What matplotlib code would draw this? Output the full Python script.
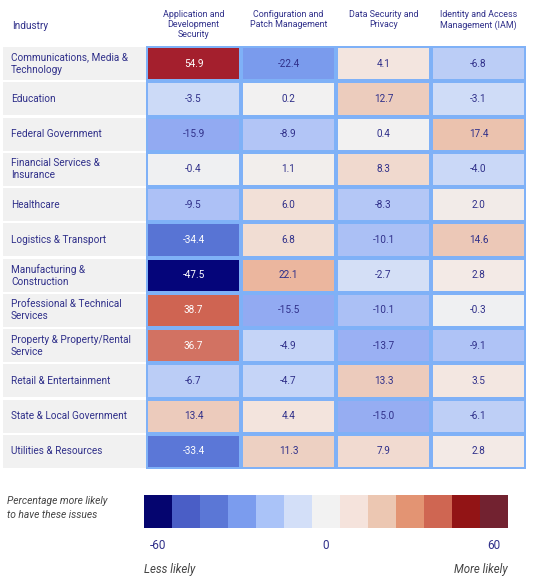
import matplotlib
matplotlib.use("Agg")
import matplotlib.pyplot as plt
import numpy as np
from matplotlib.colors import LinearSegmentedColormap, ListedColormap, Normalize

plt.rcParams["font.family"] = ["Roboto", "DejaVu Sans"]

# --- data ---
industries = [
    "Communications, Media &\nTechnology",
    "Education",
    "Federal Government",
    "Financial Services &\nInsurance",
    "Healthcare",
    "Logistics & Transport",
    "Manufacturing &\nConstruction",
    "Professional & Technical\nServices",
    "Property & Property/Rental\nService",
    "Retail & Entertainment",
    "State & Local Government",
    "Utilities & Resources",
]
columns = [
    "Application and\nDevelopment\nSecurity",
    "Configuration and\nPatch Management",
    "Data Security and\nPrivacy",
    "Identity and Access\nManagement (IAM)",
]
app_dev = [54.9, -3.5, -15.9, -0.4, -9.5, -34.4, -47.5, 38.7, 36.7, -6.7, 13.4, -33.4]
config_patch = [-22.4, 0.2, -8.9, 1.1, 6.0, 6.8, 22.1, -15.5, -4.9, -4.7, 4.4, 11.3]
data_sec = [4.1, 12.7, 0.4, 8.3, -8.3, -10.1, -2.7, -10.1, -13.7, 13.3, -15.0, 7.9]
iam = [-6.8, -3.1, 17.4, -4.0, 2.0, 14.6, 2.8, -0.3, -9.1, 3.5, -6.1, 2.8]

legend_bins = [-60, -50, -40, -30, -20, -10, 0, 10, 20, 30, 40, 50, 60]
legend_ticks = [-60, 0, 60]
legend_colors = ["#05056f", "#4a5ec6", "#5b77d6", "#7b9cee", "#aac3f8", "#d3dff8",
                 "#f2f2f2", "#f5e3dc", "#ecc7b2", "#e39473", "#cf6652", "#921415", "#722230"]

# --- colour scale for cells ---
stops = [(-60, "#02026e"), (-47.5, "#05057a"), (-40, "#4a5ec6"), (-34, "#5a76d6"),
         (-22, "#7b9cee"), (-15, "#95acf2"), (-9, "#b0c4f6"), (-3, "#cfdcf7"),
         (0, "#f2f2f2"), (5, "#f3e2da"), (13, "#ecccbd"), (22, "#ebb8a0"),
         (30, "#e39473"), (37, "#d27262"), (39, "#cf6350"), (55, "#a5202e"),
         (60, "#921415")]
cmap = LinearSegmentedColormap.from_list(
    "issues", [((v + 60) / 120, c) for v, c in stops])
norm = Normalize(-60, 60)

TEXT = "#30308a"
W, H = 544, 579

fig = plt.figure(figsize=(W / 100, H / 100), dpi=100)


def fbox(x0, y0, x1, y1):
    return [x0 / W, 1 - y1 / H, (x1 - x0) / W, (y1 - y0) / H]


values = np.array([app_dev, config_patch, data_sec, iam]).T
n_rows, n_cols = values.shape

# heatmap
ax = fig.add_axes(fbox(146, 46, 526, 469))
ax.pcolormesh(values, cmap=cmap, norm=norm, edgecolors="#7fb1f7", linewidth=1.5)
ax.set_xlim(0, n_cols)
ax.set_ylim(n_rows, 0)
ax.axis("off")
for i in range(n_rows):
    for j in range(n_cols):
        v = values[i, j]
        ax.text(j + 0.5, i + 0.5, f"{v:.1f}", ha="center", va="center",
                fontsize=7.2, color="white" if abs(v) > 30 else TEXT)

# column headers
for j, col in enumerate(columns):
    ax.text(j + 0.5, -1.03, col, ha="center", va="top", fontsize=6.4,
            color=TEXT, linespacing=1.2, clip_on=False)

# label column
axl = fig.add_axes(fbox(3, 46, 146, 469))
axl.barh(np.arange(n_rows) + 0.5, [1] * n_rows, height=0.94, left=0,
         color="#f1f1f1", edgecolor="none")
axl.set_xlim(0, 1)
axl.set_ylim(n_rows, 0)
axl.axis("off")
for i, name in enumerate(industries):
    axl.text(0.056, i + 0.5, name, ha="left", va="center", fontsize=7.2,
             color=TEXT, linespacing=1.25)
fig.text(12 / W, 1 - 26 / H, "Industry", ha="left", va="center", fontsize=7.2, color=TEXT)

# legend colour bar
axc = fig.add_axes(fbox(144, 495, 508, 528))
axc.imshow([legend_bins], cmap=ListedColormap(legend_colors), aspect="auto",
           vmin=-65, vmax=65, extent=(-65, 65, 0, 1))
axc.set_xlim(-65, 65)
axc.set_yticks([])
axc.set_xticks(legend_ticks)
axc.set_xticklabels([str(t) for t in legend_ticks], fontsize=8.5, color=TEXT)
axc.tick_params(axis="x", length=0, pad=8)
for s in axc.spines.values():
    s.set_visible(False)

fig.text(7 / W, 1 - 508 / H, "Percentage more likely\nto have these issues",
         ha="left", va="center", fontsize=7.4, style="italic", color="#444444",
         linespacing=1.45)
fig.text(144 / W, 1 - 569 / H, "Less likely", ha="left", va="center",
         fontsize=8.3, style="italic", color="#444444")
fig.text(508 / W, 1 - 569 / H, "More likely", ha="right", va="center",
         fontsize=8.3, style="italic", color="#444444")

fig.savefig("out.png", dpi=100, facecolor="white")
